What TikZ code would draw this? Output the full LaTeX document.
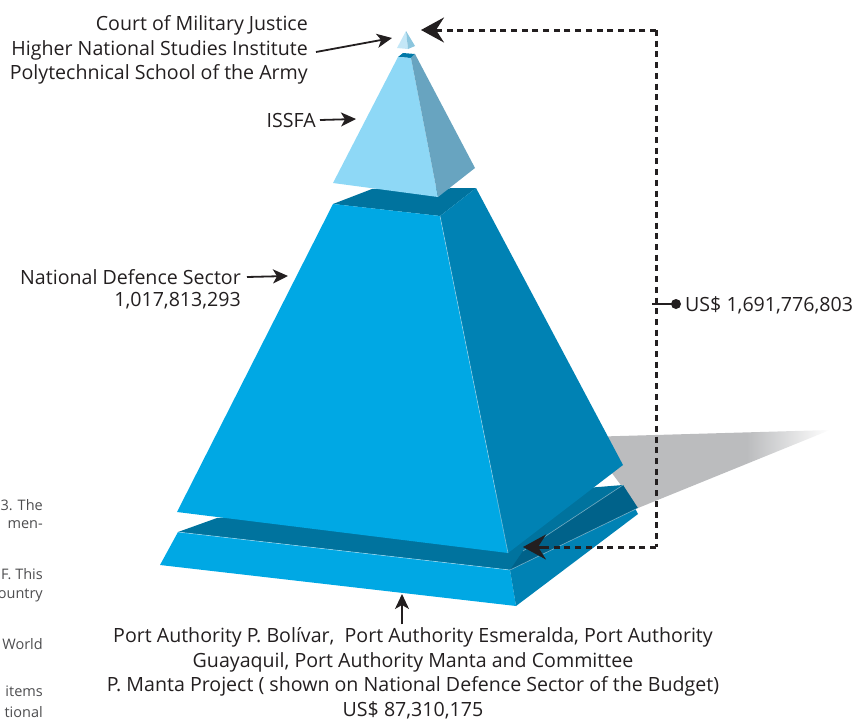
\documentclass[tikz,border=0pt]{standalone}
\usepackage{fontspec}
\setmainfont{Open Sans}
\usetikzlibrary{arrows.meta}
\definecolor{ink}{HTML}{231F20}
\definecolor{capA}{HTML}{C3E7F7}
\definecolor{capB}{HTML}{8CC6DE}
\definecolor{issL}{HTML}{8ED8F6}
\definecolor{issR}{HTML}{68A4C0}
\definecolor{issT}{HTML}{0079A8}
\definecolor{bigL}{HTML}{00A8E4}
\definecolor{bigR}{HTML}{0082B4}
\definecolor{bigT}{HTML}{00739E}
\definecolor{band}{HTML}{00628A}
\definecolor{shade}{HTML}{BBBCBE}
\definecolor{note}{HTML}{4D4D4F}
% grey cast shadow that dies out only towards its far tip
\pgfdeclarehorizontalshading{castshadow}{100bp}{color(0bp)=(shade); color(58bp)=(shade); color(75bp)=(white); color(100bp)=(white)}
\tikzset{
  lbl/.style={font=\fontsize{19.6}{24.5}\selectfont, text=ink, inner sep=0pt},
  margin/.style={font=\fontsize{14.5}{19}\selectfont, text=note, inner sep=0pt, anchor=east},
  pointer/.style={draw=ink, line width=1.8pt, -{Stealth[length=15pt, width=14pt, inset=4pt]}},
  dotlink/.style={draw=ink, line width=3pt, dash pattern=on 6pt off 4.7pt},
  bigtip/.style={-{Stealth[length=23pt, width=25pt, inset=8pt]}},
  edge/.style={draw=white, draw opacity=0.45, line width=0.6pt}
}
\begin{document}
\begin{tikzpicture}[x=1pt, y=-1pt]
\useasboundingbox (0,0) rectangle (865,720);

% shadow cast to the right
\shade[shading=castshadow] (585,437) -- (830,430) -- (638,508) -- cycle;

% base slab
\fill[bigT] (178,532) -- (217,518) -- (623,485) -- (510,570) -- cycle;
\fill[bigL] (178,532) -- (510,570) -- (516,606) -- (160,565) -- cycle;
\fill[bigR] (510,570) -- (623,485) -- (638,514) -- (516,606) -- cycle;
\fill[band] (523,551) -- (623,485) -- (638,508) -- (510,570) -- cycle;
\draw[edge] (523,551) -- (623,485);
\draw[edge] (510,570) -- (638,508);
\draw[edge] (178,532) -- (510,570);

% main pyramid
\fill[bigT] (333,204) -- (372,189) -- (476,188) -- (440,216) -- cycle;
\fill[bigL] (333,204) -- (440,216) -- (508,553) -- (177,512) -- cycle;
\fill[bigR] (440,216) -- (476,188) -- (623,465) -- (508,553) -- cycle;
\draw[edge] (440,216) -- (508,553);

% ISSFA pyramid
\fill[issT] (398,57) -- (403,53) -- (415,54) -- (411,58) -- cycle;
\fill[issL] (398,57) -- (411,58) -- (438,197) -- (333,183) -- cycle;
\fill[issR] (411,58) -- (415,54) -- (475,168) -- (438,197) -- cycle;

% cap pyramid
\fill[capA] (406,31) -- (408,49) -- (397,48) -- cycle;
\fill[capB] (406,31) -- (415,46) -- (408,49) -- cycle;

% anchor points of the pointers
\coordinate (capPt) at (392,38);
\coordinate (issPt) at (356,119);
\coordinate (ndsPt) at (288,276);
\coordinate (slabPt) at (402,594);
\coordinate (topArrow) at (421,30);
\coordinate (botArrow) at (523,547);
\coordinate (cornerTop) at (656,30);
\coordinate (cornerBot) at (656,547);
\coordinate (midTick) at (652,304);
\coordinate (dot) at (676,304);

% labels
\node[lbl, anchor=east, align=right] (court) at (308,50)
  {Court of Military Justice\\Higher National Studies Institute\\Polytechnical School of the Army};
\node[lbl, anchor=east] (issfa) at (316,120) {ISSFA};
\node[lbl, anchor=east] (nds) at (241,277) {National Defence Sector};
\node[lbl, anchor=east] (ndsv) at (241,301) {1,017,813,293};
\node[lbl, anchor=west] (total) at (685,305) {US\$ 1,691,776,803};
\node[lbl, align=center] (port) at (413,673)
  {Port Authority P. Bolívar,\ \ Port Authority Esmeralda, Port Authority\\
   Guayaquil, Port Authority Manta and Committee\\
   P. Manta Project ( shown on National Defence Sector of the Budget)\\
   US\$ 87,310,175};

% pointers
\draw[pointer] ([xshift=8pt,yshift=-2pt]court.east) -- (capPt);
\draw[pointer] ([xshift=4pt]issfa.east) -- (issPt);
\draw[pointer] ([xshift=6pt]nds.east) -- (ndsPt);
\draw[pointer] (port.north -| slabPt) ++(0,-3) -- (slabPt);

% dotted bracket with the total
\draw[dotlink] (cornerTop) -- (cornerBot);
\draw[dotlink] (cornerTop) -- ([xshift=18pt]topArrow);
\draw[dotlink] (cornerBot) -- ([xshift=18pt]botArrow);
\draw[ink, line width=3pt, bigtip] ([xshift=20pt]topArrow) -- (topArrow);
\draw[ink, line width=3pt, bigtip] ([xshift=20pt]botArrow) -- (botArrow);
\draw[ink, line width=2.5pt] (midTick) -- (dot);
\fill[ink] (dot) circle (5pt);

% running text of the facing column
\node[margin] (m1) at (43,505) {3. The};
\node[margin] (m2) at (43,525) {men-};
\node[margin] (m3) at (43,574) {F. This};
\node[margin] (m4) at (43,595) {ountry};
\node[margin] (m5) at (43,644) {World};
\node[margin] (m6) at (43,691) {items};
\node[margin] (m7) at (43,712) {tional};
\end{tikzpicture}
\end{document}
